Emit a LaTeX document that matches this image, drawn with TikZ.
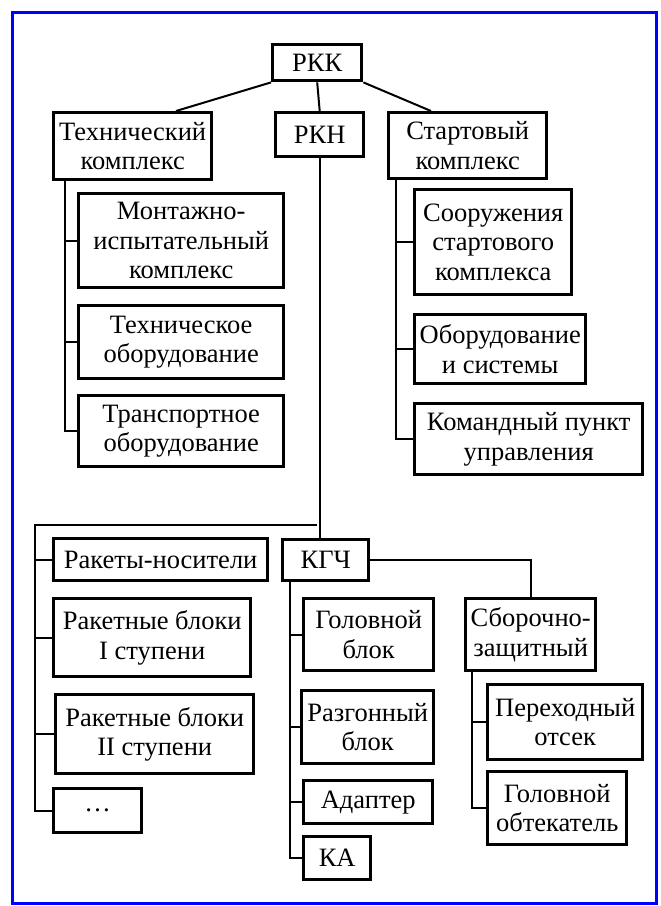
\documentclass[tikz,border=0pt]{standalone}
\usepackage{fontspec}
\setmainfont{Liberation Serif}
\begin{document}
\begin{tikzpicture}[x=1pt,y=-1pt,
  bx/.style={draw, line width=3.4pt, inner sep=0pt, align=center, anchor=north west,
    font=\fontsize{26.5}{29.5}\selectfont},
  ln/.style={line width=2pt}]
\useasboundingbox (0,0) rectangle (661,906);
\draw[blue, line width=3pt] (12,12) rectangle (656,903);
% top level
\node[bx, minimum width=89pt, minimum height=36pt] (rkk) at (271,43) {РКК};
\node[bx, minimum width=158pt, minimum height=67pt] (tech) at (52,111) {Технический\\комплекс};
\node[bx, minimum width=88pt, minimum height=44pt] (rkn) at (274,111) {РКН};
\node[bx, minimum width=158pt, minimum height=66pt] (start) at (387,111) {Стартовый\\комплекс};
% technical complex
\node[bx, minimum width=205pt, minimum height=94pt] (mont) at (77,192) {Монтажно-\\испытательный\\комплекс};
\node[bx, minimum width=205pt, minimum height=73pt] (techob) at (77,304) {Техническое\\оборудование};
\node[bx, minimum width=205pt, minimum height=71pt] (trans) at (77,394) {Транспортное\\оборудование};
% launch complex
\node[bx, minimum width=157pt, minimum height=105pt] (soor) at (413,188) {Сооружения\\стартового\\комплекса};
\node[bx, minimum width=171pt, minimum height=69pt] (obor) at (413,313) {Оборудование\\и системы};
\node[bx, minimum width=228pt, minimum height=71pt] (kom) at (413,402) {Командный пункт\\управления};
% launch vehicles
\node[bx, minimum width=214pt, minimum height=42pt] (rn) at (52,537) {Ракеты-носители};
\node[bx, minimum width=197pt, minimum height=78pt] (rb1) at (52,597) {Ракетные блоки\\I ступени};
\node[bx, minimum width=198pt, minimum height=79pt] (rb2) at (54,693) {Ракетные блоки\\II ступени};
\node[bx, minimum width=88pt, minimum height=44pt] (dots) at (52,787) {…};
% head part
\node[bx, minimum width=86pt, minimum height=41pt] (kgch) at (281,538) {КГЧ};
\node[bx, minimum width=130pt, minimum height=72pt] (golb) at (302,597) {Головной\\блок};
\node[bx, minimum width=132pt, minimum height=73pt] (razg) at (300,689) {Разгонный\\блок};
\node[bx, minimum width=129pt, minimum height=43pt] (adap) at (302,779) {Адаптер};
\node[bx, minimum width=67pt, minimum height=43pt] (ka) at (302,835) {КА};
\node[bx, minimum width=130pt, minimum height=72pt] (sbor) at (464,597) {Сборочно-\\защитный};
\node[bx, minimum width=155pt, minimum height=75pt] (perex) at (486,683) {Переходный\\отсек};
\node[bx, minimum width=139pt, minimum height=73pt] (golob) at (486,770) {Головной\\обтекатель};
% coordinates
\coordinate (tv) at (64.5,178);
\coordinate (sv) at (396,177);
\coordinate (hl) at (317,525);
\coordinate (lv) at (35,525);
\coordinate (kv) at (290,579);
\coordinate (bv) at (472,669);
% connectors
\draw[ln] (rkk.south west) -- (176,111);
\draw[ln] (rkk.south east) -- (431,111);
\draw[ln] (rkk.south) -- (rkn.north);
\draw[ln] (rkn.south) -- (kgch.north -| rkn.south);
\draw[ln] (hl) -- (lv) |- (dots.west);
\draw[ln] (lv) |- (rn.west);
\draw[ln] (lv) |- (rb1.west);
\draw[ln] (lv) |- (rb2.west);
\draw[ln] (tv) |- (trans.west);
\draw[ln] (tv) |- (mont.west);
\draw[ln] (tv) |- (techob.west);
\draw[ln] (sv) |- (kom.west);
\draw[ln] (sv) |- (soor.west);
\draw[ln] (sv) |- (obor.west);
\draw[ln] (kgch.east) -| (sbor.north);
\draw[ln] (kv) |- (ka.west);
\draw[ln] (kv) |- (golb.west);
\draw[ln] (kv) |- (razg.west);
\draw[ln] (kv) |- (adap.west);
\draw[ln] (bv) |- (golob.west);
\draw[ln] (bv) |- (perex.west);
\end{tikzpicture}
\end{document}
